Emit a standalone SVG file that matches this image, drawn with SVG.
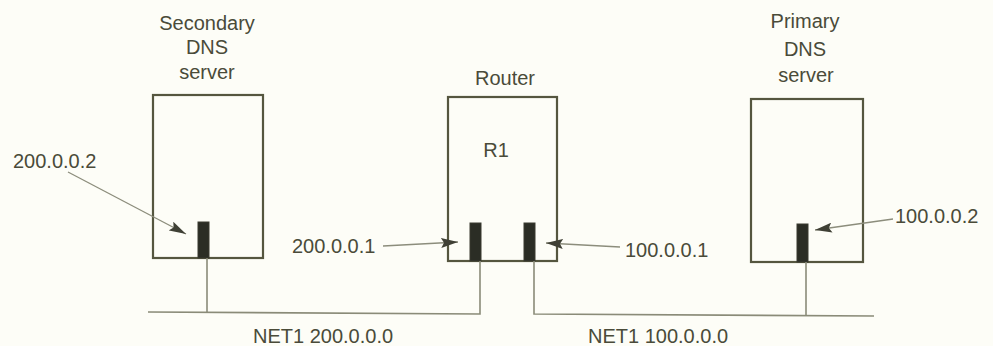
<svg xmlns="http://www.w3.org/2000/svg" width="993" height="346" viewBox="0 0 993 346">
<defs>
<style>
text{font-family:"Liberation Sans",Arial,sans-serif;font-size:20px;fill:#4a4b39;}
.mid{text-anchor:middle;}
.box{fill:none;stroke:#55563f;stroke-width:2.2;}
.port{fill:#2b2d25;stroke:#3a3b30;stroke-width:1;}
.wire{fill:none;stroke:#8a8b78;stroke-width:1.6;}
.ptr{fill:none;stroke:#8c8d7c;stroke-width:1.3;}
</style>
<marker id="ah" markerWidth="18" markerHeight="10" refX="17" refY="5" orient="auto" markerUnits="userSpaceOnUse">
<path d="M0,0 L17,5 L0,10 L3,5 Z" fill="#3f4035"/>
</marker>
</defs>
<rect width="993" height="346" fill="#fdfdf7"/>

<g id="secondary">
<text class="mid" x="207" y="30">Secondary</text>
<text class="mid" x="207" y="54">DNS</text>
<text class="mid" x="207" y="79">server</text>
<rect class="box" x="153" y="95" width="110" height="163"/>
<rect class="port" x="198" y="222" width="11" height="36"/>
</g>

<g id="router">
<text class="mid" x="505" y="85">Router</text>
<text class="mid" x="496" y="157">R1</text>
<rect class="box" x="448" y="97" width="109" height="164"/>
<rect class="port" x="470" y="223" width="11" height="38"/>
<rect class="port" x="524" y="223" width="11" height="38"/>
</g>

<g id="primary">
<text class="mid" x="805" y="28">Primary</text>
<text class="mid" x="805" y="56">DNS</text>
<text class="mid" x="806" y="82">server</text>
<rect class="box" x="751" y="99" width="112" height="163"/>
<rect class="port" x="797" y="224" width="11" height="38"/>
</g>

<g id="connectors">
<polyline class="wire" points="148,312 480,314 480,261"/>
<line class="wire" x1="207" y1="258" x2="207" y2="312"/>
<polyline class="wire" points="534,261 534,314 874,316"/>
<line class="wire" x1="806" y1="262" x2="806" y2="316"/>
<line class="ptr" x1="68" y1="172" x2="186" y2="234" marker-end="url(#ah)"/>
<line class="ptr" x1="383" y1="246" x2="458" y2="242" marker-end="url(#ah)"/>
<line class="ptr" x1="620" y1="247" x2="546" y2="243" marker-end="url(#ah)"/>
<line class="ptr" x1="893" y1="219" x2="815" y2="230" marker-end="url(#ah)"/>
</g>

<g id="labels">
<text x="13" y="168">200.0.0.2</text>
<text x="292" y="253">200.0.0.1</text>
<text x="625" y="257">100.0.0.1</text>
<text x="895" y="223">100.0.0.2</text>
<text x="253" y="343">NET1 200.0.0.0</text>
<text x="588" y="343">NET1 100.0.0.0</text>
</g>
</svg>
